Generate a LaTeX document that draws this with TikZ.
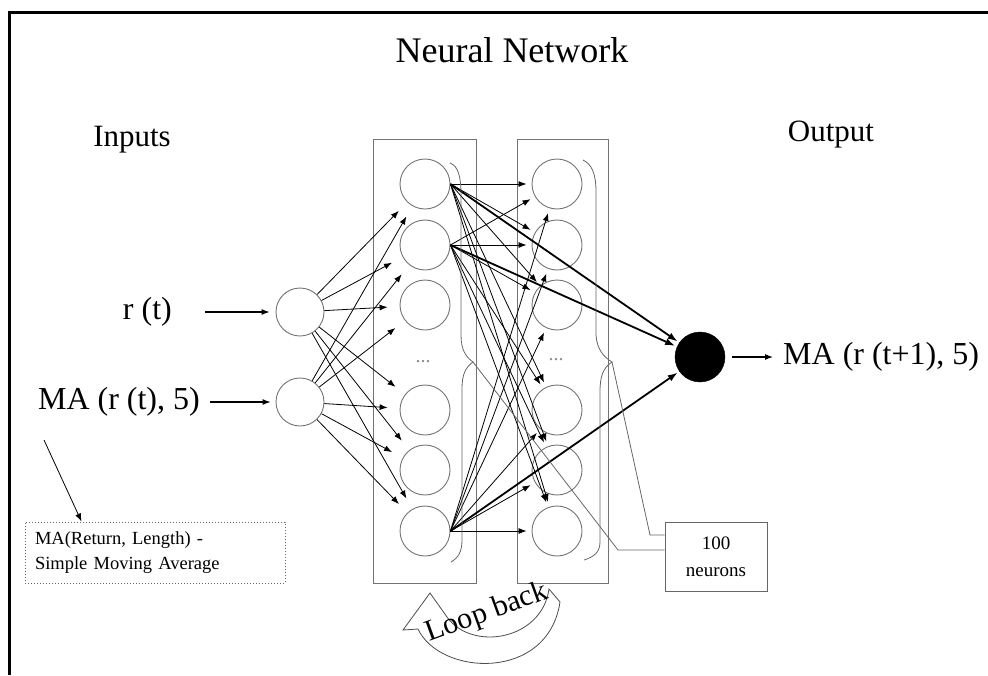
\documentclass[tikz,border=0pt]{standalone}
\usepackage{fontspec}
\setmainfont{Liberation Serif}
\usetikzlibrary{arrows.meta}
\begin{document}
\begin{tikzpicture}[x=1pt,y=-1pt,
  neuron/.style={circle, draw=black!55, line width=0.9pt, minimum size=50pt, inner sep=0pt},
  inneuron/.style={circle, draw=black!55, line width=0.9pt, minimum size=48pt, inner sep=0pt},
  layerbox/.style={rectangle, draw=black!55, line width=1pt, inner sep=0pt},
  conn/.style={-{Latex[length=8pt,width=6pt]}, line width=0.8pt},
  thickconn/.style={-{Latex[length=10pt,width=7pt]}, line width=1.8pt},
  bigtext/.style={font=\fontsize{32}{34}\selectfont, inner sep=0pt},
  thinline/.style={draw=black!60, line width=0.8pt},
]
\useasboundingbox (0,0) rectangle (988,675);
% frame
\draw[line width=3pt] (9.5,675) -- (9.5,12.5) -- (988,12.5);

% titles
\node[font=\fontsize{36}{36}\selectfont, inner sep=0pt] (title) at (512,50) {Neural Network};
\node[font=\fontsize{31}{31}\selectfont, inner sep=0pt] (inputs) at (132,140) {Inputs};
\node[font=\fontsize{31}{31}\selectfont, inner sep=0pt] (output) at (831,135) {Output};

% layer boxes
\node[layerbox, minimum width=103pt, minimum height=444pt] (box1) at (424.5,361) {};
\node[layerbox, minimum width=91pt, minimum height=444pt] (box2) at (562.5,361) {};

% neurons
\foreach \i/\y in {1/184,2/245,3/305,4/410,5/470,6/531}{
  \node[neuron] (a\i) at (425,\y) {};
  \node[neuron] (b\i) at (557,\y) {};
}
\node[text=black!45, font=\fontsize{20}{20}\selectfont, inner sep=0pt] (dots1) at (423,362) {...};
\node[text=black!45, font=\fontsize{20}{20}\selectfont, inner sep=0pt] (dots2) at (556,360) {...};

% input neurons
\node[inneuron] (in1) at (300,312) {};
\node[inneuron] (in2) at (300,402) {};

% output neuron
\node[circle, fill=black, draw=black, minimum size=50pt, inner sep=0pt] (out) at (700,357) {};

% input labels
\node[bigtext, anchor=east] (rt) at (172,312) {r (t)};
\node[bigtext, anchor=east] (ma) at (200,402) {MA (r (t), 5)};
\node[bigtext, anchor=west] (outtext) at (783,357) {MA (r (t+1), 5)};

\draw[conn, line width=1.1pt, shorten <=33pt, shorten >=6pt] (rt) -- (in1);
\draw[conn, line width=1.1pt, shorten <=10pt, shorten >=5pt] (ma) -- (in2);
\draw[conn, line width=1.1pt, shorten <=7pt, shorten >=10pt] (out) -- (outtext);

% input -> layer 1
\foreach \i in {1,2}{
  \foreach \j in {1,...,6}{
    \draw[conn, shorten >=12pt] (in\i) -- (a\j);
  }
}

% layer 1 -> layer 2
\foreach \s in {1,2,6}{
  \foreach \t in {1,...,6}{
    \draw[conn, shorten >=5pt] (a\s.east) -- (b\t);
  }
  \draw[thickconn, shorten >=2pt] (a\s.east) -- (out);
}

% braces
\draw[thinline] (450,163) .. controls (458,166) and (461,176) .. (461,195)
  -- (461,335) .. controls (461,350) and (466,357) .. (473,362)
  .. controls (466,367) and (462,374) .. (462,388)
  -- (462,540) .. controls (462,552) and (458,558) .. (451,562);
\draw[thinline] (583,160) .. controls (591,164) and (596,172) .. (596,192)
  -- (596,335) .. controls (597,350) and (604,357) .. (612,362)
  .. controls (603,368) and (600,376) .. (600,392)
  -- (600,542) .. controls (600,552) and (594,557) .. (584,560);
\coordinate (b1tip) at (473,362);
\coordinate (b2tip) at (612,362);

% 100 neurons box
\node[draw=black!60, line width=1pt, minimum width=102pt, minimum height=69pt, inner sep=0pt, align=center, font=\fontsize{19}{27}\selectfont] (nbox) at (716,556.5) {100\\neurons};
\draw[thinline] (b1tip) -- (618,550) -- ([yshift=6.5pt]nbox.west);
\draw[thinline] (b2tip) -- (650,535) -- ([yshift=21.5pt]nbox.west);

% note
\node[draw=black!60, dotted, line width=1pt, minimum width=260pt, minimum height=61pt, inner xsep=10pt, inner ysep=0pt, text width=240pt, align=left, font=\fontsize{18.5}{25}\selectfont] (note) at (155,552.5) {MA(Return, Length) -\\Simple Moving Average};
\coordinate (nstart) at (44,440);
\draw[conn, line width=0.8pt] (nstart) -- ([xshift=57pt]note.north west);

% loop back arrow
\draw[draw=black!70, line width=0.8pt] (430,593) -- (403,630) -- (418,629)
  .. controls (440,676) and (548,682) .. (560,602) -- (549,589)
  .. controls (542,640) and (472,652) .. (447,617) -- cycle;
\node[rotate=20, font=\fontsize{30}{30}\selectfont, inner sep=0pt] (loop) at (487,613) {Loop back};
\end{tikzpicture}
\end{document}
